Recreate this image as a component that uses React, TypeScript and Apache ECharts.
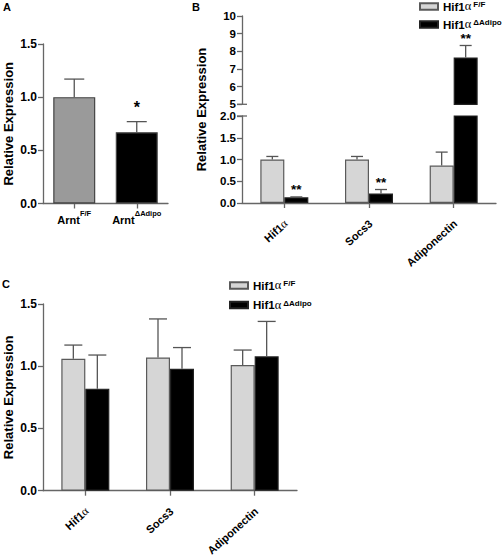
import React, { useEffect, useRef } from "react";
import * as echarts from "echarts";

// ---------- data ----------
const aCategories = ["Arnt^F/F", "Arnt^ΔAdipo"];
const aValues = [1.0, 0.67];
const aErrTops = [1.17, 0.77];
const aSig = ["", "*"];
const aColors = ["#9a9a9a", "#000000"];

const geneCategories = ["Hif1α", "Socs3", "Adiponectin"];
const seriesNames = ["Hif1α^F/F", "Hif1α^ΔAdipo"];

const bFF = [1.0, 1.0, 0.86];
const bFFErrTops = [1.07, 1.07, 1.17];
const bKO = [0.13, 0.22, 7.65];
const bKOErrTops = [0.14, 0.31, 8.33];
const bKOSig = ["**", "**", "**"];

const cFF = [1.06, 1.07, 1.01];
const cFFErrTops = [1.17, 1.38, 1.13];
const cKO = [0.82, 0.98, 1.08];
const cKOErrTops = [1.09, 1.15, 1.36];

const bTopMin = 5;
const bTopMax = 10;
const bBottomMax = 2;

// ---------- styles ----------
const FONT = '"Liberation Sans", Arial, Helvetica, sans-serif';
const GREEK = '"Liberation Serif", "DejaVu Serif", serif';
const AXIS = "#666666";
const ERR = "#555555";
const LIGHT = "#d6d6d6";

const GRID_A = { left: 43, top: 44, width: 125, height: 159.5 };
const GRID_BT = { left: 242, top: 16, width: 254, height: 88.3 };
const GRID_BB = { left: 242, top: 116, width: 254, height: 87 };
const GRID_C = { left: 43, top: 304, width: 254, height: 186.7 };

function makeRich(size: number, lh: number, supPad: number) {
  return {
    b: { fontFamily: FONT, fontWeight: "bold", fontSize: size, color: "#000", lineHeight: lh, verticalAlign: "bottom" },
    g: { fontFamily: GREEK, fontSize: size + 1, color: "#000", lineHeight: lh, verticalAlign: "bottom" },
    sup: { fontFamily: FONT, fontWeight: "bold", fontSize: size - 3.5, color: "#000", lineHeight: size - 3, verticalAlign: "top", padding: [0, 0, 0, supPad] },
  };
}

function richLabel(s: string) {
  const [base, sup] = s.split("^");
  const parts = base.split("α");
  let out = parts.map((p) => (p ? `{b|${p}}` : "")).join("{g|α}");
  if (sup) out += `{sup|${sup}}`;
  return out;
}

function errorBars(
  axisIdx: number,
  vals: number[],
  tops: number[],
  sigs: string[] | null,
  offset: number,
  capHalf: number,
  sigSize: number,
  sigShift: number,
  keep: (v: number) => boolean
) {
  const data: number[][] = [];
  const labels: string[] = [];
  vals.forEach((v, i) => {
    if (keep(v)) {
      data.push([i, v, tops[i]]);
      labels.push(sigs ? sigs[i] : "");
    }
  });
  return {
    type: "custom",
    xAxisIndex: axisIdx,
    yAxisIndex: axisIdx,
    data,
    z: 5,
    silent: true,
    renderItem: (params: any, api: any) => {
      const p0 = api.coord([api.value(0), api.value(1)]);
      const p1 = api.coord([api.value(0), api.value(2)]);
      const x = p0[0] + offset;
      const children: any[] = [
        { type: "line", shape: { x1: x, y1: p0[1], x2: x, y2: p1[1] }, style: { stroke: ERR, lineWidth: 1.3 } },
        { type: "line", shape: { x1: x - capHalf, y1: p1[1], x2: x + capHalf, y2: p1[1] }, style: { stroke: ERR, lineWidth: 1.3 } },
      ];
      const s = labels[params.dataIndex];
      if (s) {
        children.push({
          type: "text",
          x,
          y: p1[1] + sigShift,
          style: { text: s, fontFamily: FONT, fontWeight: "bold", fontSize: sigSize, fill: "#000", align: "center", verticalAlign: "bottom" },
        });
      }
      return { type: "group", children };
    },
  };
}

const axisLine = { show: true, lineStyle: { color: AXIS, width: 1.3 } };
const axisTick = { show: true, length: 5, lineStyle: { color: AXIS, width: 1.3 } };
const nameStyle = { fontFamily: FONT, fontWeight: "bold" as const, fontSize: 13, color: "#000" };

function categoryAxis(gridIndex: number, data: string[], rotate: number, margin: number, show = true) {
  return {
    type: "category",
    gridIndex,
    data,
    show,
    axisLine,
    axisTick: { ...axisTick, alignWithLabel: true },
    axisLabel: {
      interval: 0,
      rotate,
      margin,
      formatter: (v: string) => richLabel(v),
      rich: makeRich(11, 16, 0),
    },
    splitLine: { show: false },
  };
}

function valueAxis(
  gridIndex: number,
  min: number,
  max: number,
  interval: number,
  digits: number,
  name = "",
  nameGap = 28,
  labelSize = 12
) {
  return {
    type: "value",
    gridIndex,
    min,
    max,
    interval,
    name,
    nameLocation: "middle",
    nameGap,
    nameMoveOverlap: false,
    nameTextStyle: nameStyle,
    axisLine,
    axisTick,
    axisLabel: {
      fontFamily: FONT,
      fontWeight: "bold",
      fontSize: labelSize,
      color: "#000",
      margin: 6,
      formatter: (v: number) => v.toFixed(digits),
    },
    splitLine: { show: false },
  };
}

function barSeries(name: string, axisIdx: number, data: (number | string)[], color: string, width: number) {
  return {
    type: "bar",
    name,
    xAxisIndex: axisIdx,
    yAxisIndex: axisIdx,
    data,
    barWidth: width,
    barGap: "0%",
    itemStyle: { color, borderColor: color === "#000000" ? "#222" : "#5a5a5a", borderWidth: 1.2 },
  };
}

function legendAt(left: number, top: number, gap: number) {
  return {
    data: seriesNames,
    left,
    top,
    padding: 0,
    orient: "vertical",
    icon: "rect",
    itemWidth: 18,
    itemHeight: 6.5,
    itemGap: gap,
    selectedMode: false,
    formatter: (n: string) => richLabel(n),
    textStyle: { rich: makeRich(11.5, 12, 2) },
  };
}

export default function App() {
  const ref = useRef<HTMLDivElement>(null);
  useEffect(() => {
    if (!ref.current) return;
    const chart = echarts.init(ref.current, null, { renderer: "svg" });
    const inTop = (v: number) => v > bTopMin;
    const inBottom = (v: number) => v <= bBottomMax;
    const g = (o: any) => ({ ...o, outerBoundsMode: "none", containLabel: false });
    const breakY1 = GRID_BT.top + GRID_BT.height;
    const breakY2 = GRID_BB.top;
    const option: any = {
      animation: false,
      backgroundColor: "#fff",
      grid: [g(GRID_A), g(GRID_BT), g(GRID_BB), g(GRID_C)],
      legend: [legendAt(419, -0.5, 5), legendAt(229, 278.5, 6.5)],
      xAxis: [
        categoryAxis(0, aCategories, 0, 6),
        categoryAxis(1, geneCategories, 0, 6, false),
        categoryAxis(2, geneCategories, 42, 17),
        categoryAxis(3, geneCategories, 42, 17),
      ],
      yAxis: [
        valueAxis(0, 0, 1.5, 0.5, 1, "Relative Expression", 28),
        valueAxis(1, bTopMin, bTopMax, 1, 0, "", 28, 11.5),
        valueAxis(2, 0, bBottomMax, 0.5, 1, "", 28, 11.5),
        valueAxis(3, 0, 1.5, 0.5, 1, "Relative Expression", 28),
      ],
      graphic: [
        { type: "text", left: 3, top: 1, style: { text: "A", fontFamily: FONT, fontWeight: "bold", fontSize: 11, fill: "#000" } },
        { type: "text", left: 192, top: 1, style: { text: "B", fontFamily: FONT, fontWeight: "bold", fontSize: 11, fill: "#000" } },
        { type: "text", left: 2, top: 278, style: { text: "C", fontFamily: FONT, fontWeight: "bold", fontSize: 11, fill: "#000" } },
        {
          type: "text",
          x: 201,
          y: 109.5,
          rotation: Math.PI / 2,
          style: { text: "Relative Expression", ...nameStyle, fill: "#000", align: "center", verticalAlign: "middle" },
        },
        { type: "line", shape: { x1: GRID_BT.left - 5, y1: breakY1, x2: GRID_BT.left + 5, y2: breakY1 }, style: { stroke: AXIS, lineWidth: 1.3 } },
        { type: "line", shape: { x1: GRID_BB.left - 5, y1: breakY2, x2: GRID_BB.left + 5, y2: breakY2 }, style: { stroke: AXIS, lineWidth: 1.3 } },
      ],
      series: [
        {
          type: "bar",
          name: "Arnt",
          xAxisIndex: 0,
          yAxisIndex: 0,
          barWidth: 42,
          data: aValues.map((v, i) => ({ value: v, itemStyle: { color: aColors[i] } })),
          itemStyle: { borderColor: "#444", borderWidth: 1.2 },
        },
        errorBars(0, aValues, aErrTops, aSig, 0, 10, 16, -6, () => true),

        barSeries(seriesNames[0], 1, bFF.map((v) => (inTop(v) ? v : "-")), LIGHT, 24),
        barSeries(seriesNames[1], 1, bKO.map((v) => (inTop(v) ? v : "-")), "#000000", 24),
        barSeries(seriesNames[0], 2, bFF, LIGHT, 24),
        barSeries(seriesNames[1], 2, bKO, "#000000", 24),
        errorBars(2, bFF, bFFErrTops, null, -12, 6, 14, 0, inBottom),
        errorBars(2, bKO, bKOErrTops, bKOSig, 12, 6, 13.5, 0, inBottom),
        errorBars(1, bKO, bKOErrTops, bKOSig, 12, 6, 13.5, 0, inTop),

        barSeries(seriesNames[0], 3, cFF, LIGHT, 24),
        barSeries(seriesNames[1], 3, cKO, "#000000", 24),
        errorBars(3, cFF, cFFErrTops, null, -12, 9, 14, 0, () => true),
        errorBars(3, cKO, cKOErrTops, null, 12, 9, 14, 0, () => true),
      ],
    };
    chart.setOption(option);
    return () => chart.dispose();
  }, []);
  return <div ref={ref} style={{ position: "absolute", left: 0, top: 0, width: 503, height: 557 }} />;
}
